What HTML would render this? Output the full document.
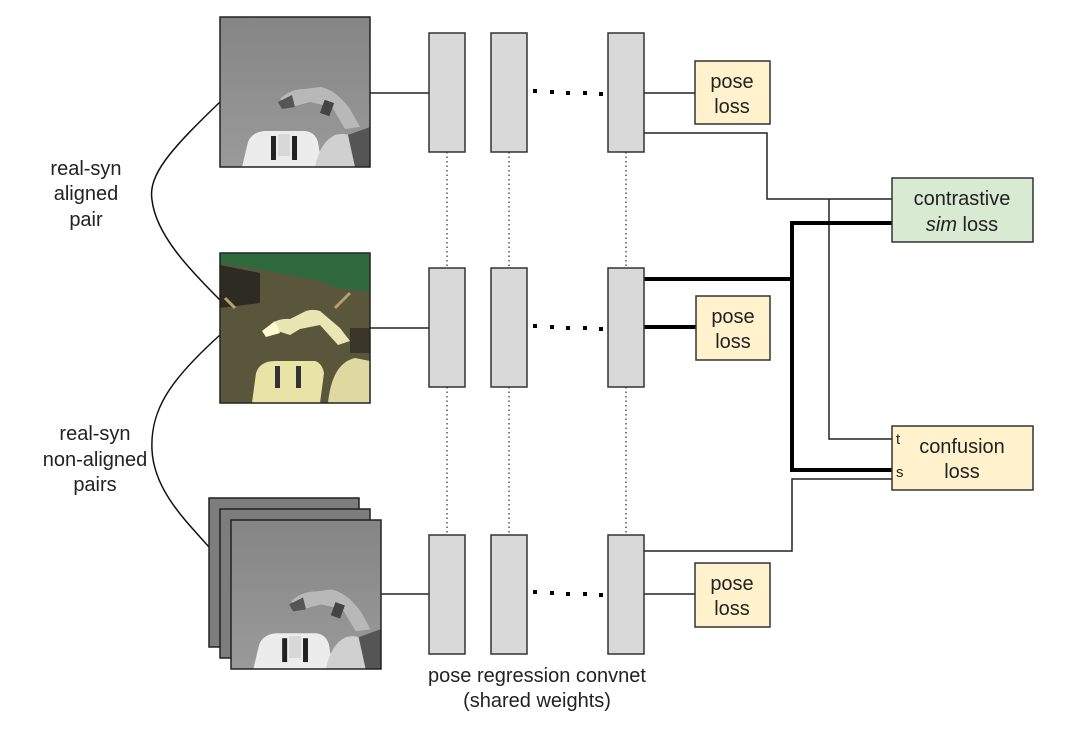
<!DOCTYPE html>
<html><head><meta charset="utf-8"><style>
html,body{margin:0;padding:0;background:#fff;}
svg{display:block;}
text{font-family:"Liberation Sans",Arial,sans-serif;fill:#222;}
</style></head><body>
<svg width="1080" height="730" viewBox="0 0 1080 730" xmlns="http://www.w3.org/2000/svg">
<defs>
<linearGradient id="gbg" x1="0" y1="0" x2="0" y2="1"><stop offset="0" stop-color="#858585"/><stop offset="1" stop-color="#9a9a9a"/></linearGradient>
<symbol id="syn" viewBox="0 0 150 150">
<rect width="150" height="150" fill="url(#gbg)"/>
<path d="M22 150 L28 125 Q32 115 45 114 L85 114 Q95 115 98 125 L102 150Z" fill="#ececec"/>
<rect x="51" y="119" width="5" height="24" fill="#222"/><rect x="72" y="119" width="5" height="24" fill="#222"/>
<rect x="58" y="117" width="12" height="22" fill="#d8d8d8"/>
<path d="M95 150 Q100 125 115 118 Q130 114 135 125 L140 150Z" fill="#d0d0d0"/>
<path d="M128 118 L150 110 L150 150 L135 150Z" fill="#555"/>
<path d="M60 82 Q70 72 85 72 L100 70 Q115 72 130 92 L140 110 L125 112 L112 90 L90 85 L72 90Z" fill="#b8b8b8"/>
<path d="M58 85 L72 78 L75 90 L62 92Z" fill="#555"/>
<rect x="102" y="84" width="10" height="14" fill="#444" transform="rotate(20 107 91)"/>
</symbol>
<symbol id="real" viewBox="0 0 150 150">
<rect width="150" height="150" fill="#59563c"/>
<path d="M0 0 H150 V38 Q120 38 100 28 Q60 20 30 15 L0 10Z" fill="#2f6a3e"/>
<path d="M0 12 L40 20 L40 50 L0 55Z" fill="#2e2c22"/>
<path d="M5 45 L15 55" stroke="#b7a16a" stroke-width="3"/><path d="M115 55 L130 40" stroke="#b7a16a" stroke-width="3"/>
<path d="M32 150 L36 120 Q40 108 55 108 L95 108 Q102 110 104 120 L100 150Z" fill="#e8e4a6"/>
<rect x="55" y="113" width="5" height="22" fill="#333"/><rect x="76" y="113" width="5" height="22" fill="#333"/>
<path d="M108 150 Q112 110 135 105 L150 108 L150 150Z" fill="#ddd9a0"/>
<path d="M48 75 Q55 65 70 66 L82 60 Q90 55 100 58 L120 75 L130 88 L118 92 L100 72 L80 76 L70 82Z" fill="#e9e6b4"/>
<rect x="130" y="75" width="20" height="25" fill="#3a372a"/>
<path d="M42 78 L55 68 L60 80 L46 84Z" fill="#fff9d0"/>
</symbol>
</defs>

<path d="M220 102 C170 150,148 175,152 200 C156 235,190 270,220 300" fill="none" stroke="#111" stroke-width="1.5"/>
<path d="M220 335 C170 380,150 410,152 450 C154 490,185 520,209 547" fill="none" stroke="#111" stroke-width="1.5"/>

<use href="#syn" x="220" y="17" width="150" height="150"/>
<rect x="220" y="17" width="150" height="150" fill="none" stroke="#222" stroke-width="1.5"/>
<use href="#real" x="220" y="253" width="150" height="150"/>
<rect x="220" y="253" width="150" height="150" fill="none" stroke="#222" stroke-width="1.5"/>
<rect x="209" y="498" width="150" height="149" fill="#7d7d7d" stroke="#222" stroke-width="1.5"/>
<rect x="220" y="509" width="150" height="149" fill="#7d7d7d" stroke="#222" stroke-width="1.5"/>
<use href="#syn" x="231" y="520" width="150" height="149" preserveAspectRatio="none"/>
<rect x="231" y="520" width="150" height="149" fill="none" stroke="#222" stroke-width="1.5"/>

<g stroke="#555" stroke-width="1.5" stroke-dasharray="1.5 3">
<line x1="447" y1="152" x2="447" y2="268"/><line x1="509" y1="152" x2="509" y2="268"/><line x1="626" y1="152" x2="626" y2="268"/>
<line x1="447" y1="387" x2="447" y2="535"/><line x1="509" y1="387" x2="509" y2="535"/><line x1="626" y1="387" x2="626" y2="535"/>
</g>

<g stroke="#222" stroke-width="1.5" fill="none">
<line x1="370" y1="93" x2="429" y2="93"/>
<line x1="370" y1="328" x2="429" y2="328"/>
<line x1="381" y1="594" x2="429" y2="594"/>
<line x1="644" y1="93" x2="695" y2="93"/>
<polyline points="644,133 767,133 767,199 892,199"/>
<polyline points="829,199 829,439 892,439"/>
<polyline points="644,551 792,551 792,479 892,479"/>
<line x1="644" y1="594" x2="695" y2="594"/>
</g>
<g stroke="#000" stroke-width="4" fill="none">
<line x1="644" y1="279" x2="792" y2="279"/>
<line x1="644" y1="327" x2="696" y2="327"/>
<polyline points="892,223 792,223 792,470 892,470"/>
</g>

<g fill="#d9d9d9" stroke="#333" stroke-width="1.5">
<rect x="429" y="33" width="36" height="119"/><rect x="491" y="33" width="36" height="119"/><rect x="608" y="33" width="36" height="119"/>
<rect x="429" y="268" width="36" height="119"/><rect x="491" y="268" width="36" height="119"/><rect x="608" y="268" width="36" height="119"/>
<rect x="429" y="535" width="36" height="119"/><rect x="491" y="535" width="36" height="119"/><rect x="608" y="535" width="36" height="119"/>
</g>
<g fill="#000">
<rect x="533" y="89" width="4" height="4"/><rect x="550" y="90" width="4" height="4"/><rect x="566" y="91" width="4" height="4"/><rect x="583" y="91" width="4" height="4"/><rect x="599" y="92" width="4" height="4"/>
<rect x="533" y="324" width="4" height="4"/><rect x="550" y="325" width="4" height="4"/><rect x="566" y="326" width="4" height="4"/><rect x="583" y="326" width="4" height="4"/><rect x="599" y="327" width="4" height="4"/>
<rect x="533" y="590" width="4" height="4"/><rect x="550" y="591" width="4" height="4"/><rect x="566" y="592" width="4" height="4"/><rect x="583" y="592" width="4" height="4"/><rect x="599" y="593" width="4" height="4"/>
</g>

<g fill="#fff2cc" stroke="#333" stroke-width="1.5">
<rect x="695" y="61" width="75" height="63"/>
<rect x="696" y="296" width="74" height="64"/>
<rect x="695" y="563" width="75" height="64"/>
<rect x="892" y="426" width="141" height="64"/>
</g>
<rect x="892" y="178" width="141" height="64" fill="#d9ead3" stroke="#333" stroke-width="1.5"/>

<g font-size="20" text-anchor="middle">
<text x="732" y="88">pose</text><text x="732" y="113">loss</text>
<text x="733" y="323">pose</text><text x="733" y="348">loss</text>
<text x="732" y="590">pose</text><text x="732" y="615">loss</text>
<text x="962" y="205">contrastive</text>
<text x="962" y="231"><tspan font-style="italic">sim</tspan> loss</text>
<text x="962" y="453">confusion</text><text x="962" y="478">loss</text>
<text x="86" y="175">real-syn</text><text x="86" y="200">aligned</text><text x="86" y="226">pair</text>
<text x="95" y="440">real-syn</text><text x="95" y="466">non-aligned</text><text x="95" y="491">pairs</text>
<text x="537" y="682">pose regression convnet</text>
<text x="537" y="707">(shared weights)</text>
</g>
<text x="896" y="444" font-size="15">t</text>
<text x="896" y="477" font-size="15">s</text>
</svg>
</body></html>
